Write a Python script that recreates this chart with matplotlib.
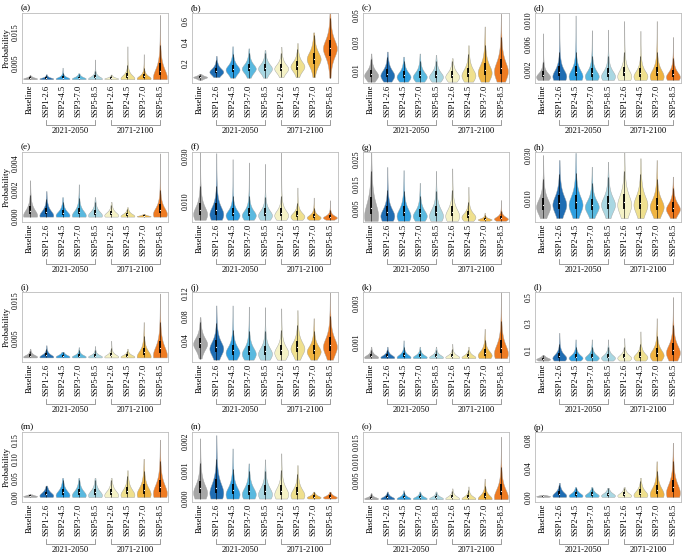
import numpy as np
import matplotlib
matplotlib.use('Agg')
import matplotlib.pyplot as plt
import matplotlib.transforms as mtransforms

plt.rcParams['font.family'] = ['Liberation Serif', 'DejaVu Serif']
plt.rcParams['font.size'] = 6.1

# -----------------------
# DATA
# -----------------------
scenarios = ['Baseline', 'SSP1-2.6', 'SSP2-4.5', 'SSP3-7.0', 'SSP5-8.5',
             'SSP1-2.6', 'SSP2-4.5', 'SSP3-7.0', 'SSP5-8.5']
periods = ['2021-2050', '2071-2100']
panel_tags = ['(a)', '(b)', '(c)', '(d)', '(e)', '(f)', '(g)', '(h)',
              '(i)', '(j)', '(k)', '(l)', '(m)', '(n)', '(o)', '(p)']

ytick_labels = [
    ['0.005', '0.015'], ['0.2', '0.4', '0.6'], ['0.01', '0.03', '0.05'], ['0.002', '0.006', '0.010'],
    ['0.000', '0.002', '0.004'], ['0.010', '0.030'], ['0.005', '0.015', '0.025'], ['0.010', '0.030'],
    ['0.005', '0.015'], ['0.04', '0.08', '0.12'], ['0.001', '0.003'], ['0.1', '0.3', '0.5'],
    ['0.00', '0.05', '0.10', '0.15'], ['0.000', '0.001', '0.002'], ['0.005', '0.010', '0.015'], ['0.00', '0.04', '0.08'],
]

ylims = [
    (-0.0012, 0.0211), (0.015, 0.672), (0.0005, 0.0515), (-0.0003, 0.0111),
    (-0.0004, 0.0048), (0.0005, 0.032), (-0.0005, 0.0281), (-0.001, 0.0314),
    (-0.0012, 0.0172), (0.002, 0.122), (-0.00005, 0.0036), (0.009, 0.538),
    (-0.013, 0.17), (-0.00012, 0.00231), (-0.0005, 0.0175), (-0.007, 0.091),
]

# per violin: minimum, mode, spread of the bulk, maximum
v_lo = [
    [0, 0, 0, 0, 0, 0, 0, 0, 0],
    [0.045, 0.07, 0.065, 0.065, 0.065, 0.07, 0.07, 0.07, 0.065],
    [0.0015] * 9,
    [0.0002] * 9,
    [0, 0, 0, 0, 0, 0, 0, 0, 0],
    [0.0015] * 9,
    [0, 0, 0, 0, 0, 0, 0, 0, 0],
    [0.0008] * 9,
    [0, 0, 0, 0, 0, 0, 0, 0, 0],
    [0.008, 0.006, 0.006, 0.006, 0.006, 0.006, 0.006, 0.006, 0.006],
    [0.00015] * 9,
    [0.02] * 9,
    [0, 0, 0, 0, 0, 0, 0, 0, 0],
    [0, 0, 0, 0, 0, 0, 0, 0, 0],
    [0.0002] * 9,
    [0, 0, 0, 0, 0, 0, 0, 0, 0],
]
v_mode = [
    [0.0002, 0.0002, 0.0002, 0.0002, 0.0002, 0.0002, 0.0003, 0.0003, 0.0006],
    [0.07, 0.12, 0.14, 0.15, 0.15, 0.15, 0.17, 0.24, 0.34],
    [0.006, 0.006, 0.005, 0.005, 0.005, 0.005, 0.006, 0.008, 0.009],
    [0.0007, 0.0008, 0.0008, 0.0008, 0.0008, 0.0008, 0.0008, 0.0008, 0.0007],
    [0.0001, 0.0001, 0.0001, 0.0001, 0.0001, 0.0001, 0.00005, 0.00003, 0.0002],
    [0.004, 0.004, 0.0035, 0.0035, 0.0035, 0.0035, 0.003, 0.0025, 0.0025],
    [0.002, 0.002, 0.002, 0.002, 0.002, 0.002, 0.0015, 0.0005, 0.0008],
    [0.006, 0.007, 0.007, 0.006, 0.007, 0.007, 0.007, 0.006, 0.005],
    [0.0002, 0.0002, 0.0002, 0.0002, 0.0002, 0.0002, 0.0002, 0.0003, 0.0006],
    [0.033, 0.025, 0.018, 0.016, 0.016, 0.018, 0.025, 0.02, 0.028],
    [0.0002, 0.0002, 0.0002, 0.0002, 0.0002, 0.0002, 0.0002, 0.0003, 0.0004],
    [0.03, 0.04, 0.04, 0.04, 0.04, 0.04, 0.045, 0.06, 0.08],
    [0.002, 0.004, 0.005, 0.005, 0.005, 0.005, 0.006, 0.008, 0.01],
    [0.0002, 0.0002, 0.00015, 0.00015, 0.00015, 0.00015, 0.00012, 0.00004, 0.00004],
    [0.0004, 0.0004, 0.0004, 0.0004, 0.0004, 0.0004, 0.0004, 0.0004, 0.0008],
    [0.001, 0.002, 0.002, 0.002, 0.002, 0.002, 0.003, 0.004, 0.006],
]
v_spread = [
    [0.0004, 0.0004, 0.0006, 0.0006, 0.0008, 0.0004, 0.0013, 0.001, 0.0033],
    [0.014, 0.04, 0.052, 0.052, 0.052, 0.052, 0.057, 0.08, 0.1],
    [0.0042, 0.0049, 0.0042, 0.0042, 0.0042, 0.0042, 0.0056, 0.007, 0.0085],
    [0.0008, 0.0013, 0.0013, 0.0011, 0.0011, 0.0013, 0.0011, 0.0013, 0.001],
    [0.0005, 0.00042, 0.00035, 0.00042, 0.00035, 0.00028, 0.0002, 0.00007, 0.00056],
    [0.0042, 0.0042, 0.0028, 0.0028, 0.0028, 0.0028, 0.0021, 0.0014, 0.0011],
    [0.0063, 0.0035, 0.0035, 0.0028, 0.0035, 0.0035, 0.0021, 0.0006, 0.0011],
    [0.0044, 0.005, 0.005, 0.0038, 0.0044, 0.0055, 0.005, 0.0044, 0.0033],
    [0.00056, 0.0007, 0.00056, 0.00056, 0.00056, 0.0007, 0.00056, 0.0017, 0.0028],
    [0.013, 0.015, 0.013, 0.013, 0.013, 0.013, 0.014, 0.012, 0.018],
    [0.00014, 0.00014, 0.00017, 0.00014, 0.00014, 0.00014, 0.00014, 0.00028, 0.00056],
    [0.014, 0.035, 0.028, 0.028, 0.028, 0.028, 0.035, 0.05, 0.07],
    [0.003, 0.01, 0.014, 0.014, 0.014, 0.014, 0.017, 0.021, 0.028],
    [0.00035, 0.0004, 0.0003, 0.00028, 0.00028, 0.00028, 0.00025, 0.00007, 0.00007],
    [0.0004, 0.00056, 0.00056, 0.00056, 0.00056, 0.0007, 0.0007, 0.0011, 0.0025],
    [0.0014, 0.0056, 0.0042, 0.0042, 0.0042, 0.0042, 0.007, 0.011, 0.015],
]
v_top = [
    [0.0012, 0.0016, 0.0037, 0.0019, 0.0063, 0.0015, 0.0105, 0.008, 0.0205],
    [0.10, 0.27, 0.36, 0.34, 0.325, 0.355, 0.39, 0.49, 0.67],
    [0.022, 0.0234, 0.0197, 0.022, 0.021, 0.0186, 0.028, 0.0417, 0.051],
    [0.0078, 0.011, 0.0107, 0.0083, 0.0084, 0.0098, 0.0082, 0.0098, 0.0072],
    [0.0027, 0.0019, 0.00145, 0.0024, 0.00145, 0.0011, 0.0007, 0.0002, 0.0047],
    [0.0322, 0.0315, 0.0288, 0.0273, 0.0267, 0.0318, 0.016, 0.0115, 0.0103],
    [0.028, 0.022, 0.0207, 0.0155, 0.0204, 0.0214, 0.0139, 0.0033, 0.0085],
    [0.030, 0.0277, 0.031, 0.0246, 0.0269, 0.0312, 0.0285, 0.0277, 0.020],
    [0.0023, 0.0032, 0.0015, 0.0027, 0.003, 0.0044, 0.0023, 0.0093, 0.0168],
    [0.079, 0.099, 0.099, 0.097, 0.096, 0.094, 0.091, 0.077, 0.121],
    [0.00075, 0.00075, 0.00108, 0.00075, 0.00075, 0.0009, 0.00075, 0.00168, 0.0036],
    [0.06, 0.23, 0.18, 0.18, 0.18, 0.19, 0.24, 0.34, 0.5],
    [0.007, 0.03, 0.05, 0.05, 0.05, 0.05, 0.07, 0.10, 0.15],
    [0.00209, 0.0022, 0.00174, 0.00122, 0.00136, 0.00157, 0.00116, 0.00024, 0.00024],
    [0.0018, 0.0022, 0.0025, 0.0022, 0.0022, 0.003, 0.0035, 0.0055, 0.0163],
    [0.003, 0.02, 0.014, 0.014, 0.013, 0.014, 0.027, 0.05, 0.076],
]

colors = ['#a6a6a6', '#1f6db3', '#2e9ee0', '#5ab9df', '#a9d7e2',
          '#f5f2c6', '#efe08e', '#f0b441', '#ee7b22']


def violin_stats(lo, mode, spread, top):
    # smooth skewed profile between min and max
    y = np.linspace(lo, top, 400)
    z = (y - mode) / spread
    dens = (1 + z ** 2 / 2) ** -1.5
    cdf = np.cumsum(dens)
    cdf = cdf / cdf[-1]
    q1, med, q3 = np.interp([0.25, 0.5, 0.75], cdf, y)
    st = dict(coords=y, vals=dens, mean=med, median=med, min=lo, max=top)
    return st, q1, med, q3


# -----------------------
# FIGURE
# -----------------------
fig = plt.figure(figsize=(6.85, 5.6), dpi=100)
W, H = 685, 560
lefts = [22, 192, 363, 535]
tops = [13, 152, 292, 432]
aw, ah = 146, 70
pos = np.arange(len(scenarios))

for k in range(16):
    r, c = divmod(k, 4)
    ax = fig.add_axes([lefts[c] / W, 1 - (tops[r] + ah) / H, aw / W, ah / H])

    stats, boxes = [], []
    for i in range(9):
        st, q1, med, q3 = violin_stats(v_lo[k][i], v_mode[k][i], v_spread[k][i], v_top[k][i])
        stats.append(st)
        boxes.append((q1, med, q3))

    parts = ax.violin(stats, positions=pos, widths=0.86,
                      showmeans=False, showextrema=False, showmedians=False)
    for body, col in zip(parts['bodies'], colors):
        body.set_facecolor(col)
        body.set_edgecolor('#a0a0a0')
        body.set_linewidth(0.3)
        body.set_alpha(1)

    for i, (q1, med, q3) in enumerate(boxes):
        iqr = q3 - q1
        lo_w = max(v_lo[k][i], q1 - 1.5 * iqr)
        hi_w = min(v_top[k][i], q3 + 1.5 * iqr)
        ax.vlines(i, lo_w, hi_w, color='k', lw=0.4, zorder=3)
        ax.vlines(i, q1, q3, color='k', lw=1.3, zorder=3)
        ax.scatter([i], [med], s=0.8, color='white', zorder=4, linewidths=0)

    ax.set_xlim(-0.5, 8.5)
    ax.set_ylim(*ylims[k])
    ax.set_yticks([float(s) for s in ytick_labels[k]])
    ax.set_yticklabels(ytick_labels[k], rotation=90, va='center', fontsize=5.7)
    ax.set_xticks(pos)
    ax.set_xticklabels(scenarios, rotation=90)
    ax.tick_params(length=0, pad=1.5)
    for sp in ax.spines.values():
        sp.set_color('#bcbcbc')
        sp.set_linewidth(0.6)

    if c == 0:
        ax.set_ylabel('Probability', labelpad=1, fontsize=6.4)

    ax.text(-0.01, 1.005, panel_tags[k], transform=ax.transAxes,
            ha='left', va='bottom', fontsize=6.7)

    # period brackets under the tick labels
    trans = mtransforms.blended_transform_factory(ax.transData, ax.transAxes)
    for (x0, x1), per in zip([(1, 4), (5, 8)], periods):
        ax.plot([x0, x0, x1, x1], [-0.535, -0.6, -0.6, -0.535], transform=trans,
                clip_on=False, color='#8c8c8c', lw=0.6)
        ax.text((x0 + x1) / 2, -0.69, per, transform=trans, ha='center', va='center')

fig.savefig('out.png', dpi=100)
